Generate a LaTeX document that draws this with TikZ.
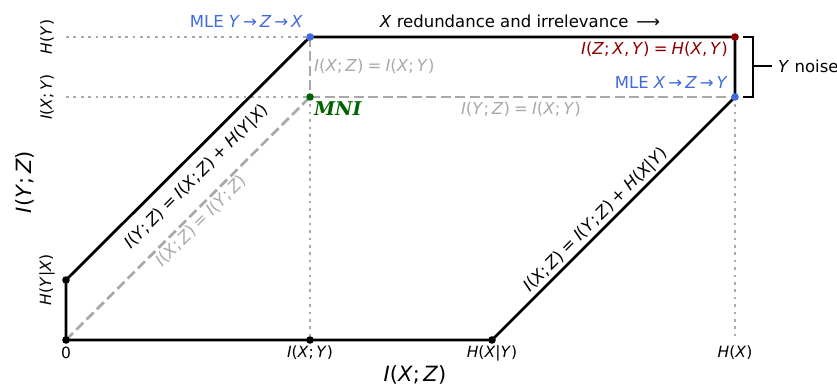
\documentclass[tikz,border=0pt]{standalone}
\usepackage{fontspec}
\setmainfont{DejaVu Sans}
\newfontfamily\mnifont{DejaVu Serif}
\definecolor{mleblue}{HTML}{4169E1}
\definecolor{redd}{HTML}{8B0000}
\definecolor{mnigreen}{HTML}{006400}
\definecolor{gr}{HTML}{A9A9A9}
\newcommand{\V}[1]{\textit{#1}}
\newcommand{\eq}{\hspace{0.25em}=\hspace{0.25em}}
\newcommand{\pl}{\hspace{0.25em}+\hspace{0.25em}}
\newcommand{\sm}{;\hspace{0.17em}}
\newcommand{\cm}{,\hspace{0.17em}}
\newcommand{\ar}{\hspace{0.18em}\textrightarrow\hspace{0.18em}}
\tikzset{
  txt/.style={inner sep=0pt, font=\fontsize{16.5pt}{19pt}\selectfont},
  tick/.style={inner sep=0pt, font=\fontsize{15.5pt}{18pt}\selectfont},
  axl/.style={inner sep=0pt, font=\fontsize{21pt}{24pt}\selectfont},
  frame/.style={line width=2.8pt, line join=miter},
  gdash/.style={gr, line width=2.7pt, dash pattern=on 10pt off 4.5pt},
  gdot/.style={gr, line width=2.7pt, dash pattern=on 2.7pt off 4.7pt},
  pt/.style={circle, inner sep=0pt, minimum size=7.6pt, fill=#1},
}
\begin{document}
\begin{tikzpicture}[x=1pt,y=1pt]
\useasboundingbox (0,0) rectangle (837,387);
% key coordinates
\coordinate (O) at (66,47);
\coordinate (A) at (66,107);
\coordinate (B) at (310,350);
\coordinate (C) at (735,350);
\coordinate (D) at (735,290);
\coordinate (E) at (492,47);
\coordinate (M) at (310,290);
\coordinate (F) at (310,47);
\coordinate (G) at (735,47);
\coordinate (LH) at (66,350);
\coordinate (LI) at (66,290);
% dotted guides
\draw[gdot] (LH) -- (B);
\draw[gdot] (LI) -- (M);
\draw[gdot] (M) -- (F);
\draw[gdot] (D) -- (G);
% dashed
\draw[gdash] (O) -- (M);
\draw[gdash] (M) -- (D);
\draw[gdash] (B) -- (M);
% frame
\draw[frame] (O) -- (A) -- (B) -- (C) -- (D) -- (E) -- cycle;
% bracket
\coordinate (br1) at (743,350);
\coordinate (br2) at (753,350);
\coordinate (br3) at (753,290);
\coordinate (br4) at (743,290);
\coordinate (brm) at (753,321);
\coordinate (brt) at (772,321);
\draw[line width=1.8pt] (br1) -- (br2) -- (br3) -- (br4);
\draw[line width=1.8pt] (brm) -- (brt);
% points
\node[pt=black] (pO) at (O) {};
\node[pt=black] (pA) at (A) {};
\node[pt=black] (pF) at (F) {};
\node[pt=black] (pE) at (E) {};
\node[pt=mleblue] (pB) at (B) {};
\node[pt=mleblue] (pD) at (D) {};
\node[pt=redd] (pC) at (C) {};
\node[pt=mnigreen] (pM) at (M) {};
% top labels
\node[txt, mleblue, anchor=east] (mle1) at (303,366) {MLE \V{Y}\ar\V{Z}\ar\V{X}};
\node[txt] (red) at (520,366) {\V{X} redundance and irrelevance \,⟶};
\node[txt, redd, anchor=east] (ixy) at (728,338) {\V{I}(\V{Z}\sm\V{X}\cm\V{Y})\eq\V{H}(\V{X}\cm\V{Y})};
\node[txt, mleblue, anchor=east] (mle2) at (728,305) {MLE \V{X}\ar\V{Z}\ar\V{Y}};
\node[txt, anchor=west] (noise) at (778,321) {\V{Y} noise};
\node[txt, gr, anchor=west] (g1) at (314,321) {\V{I}(\V{X}\sm\V{Z})\eq\V{I}(\V{X}\sm\V{Y})};
\node[inner sep=0pt, mnigreen, anchor=west, font=\fontsize{19pt}{21pt}\selectfont] (mni) at (314,278) {\mnifont\bfseries\itshape MNI};
\node[txt, gr] (g2) at (521,278) {\V{I}(\V{Y}\sm\V{Z})\eq\V{I}(\V{X}\sm\V{Y})};
% diagonal labels
\node[txt, rotate=45] (d1) at (197,210) {\V{I}(\V{Y}\sm\V{Z})\eq\V{I}(\V{X}\sm\V{Z})\pl\V{H}(\V{Y}|\V{X})};
\node[txt, gr, rotate=45] (d2) at (201,166) {\V{I}(\V{X}\sm\V{Z})\eq\V{I}(\V{Y}\sm\V{Z})};
\node[txt, rotate=45] (d3) at (596,167) {\V{I}(\V{X}\sm\V{Z})\eq\V{I}(\V{Y}\sm\V{Z})\pl\V{H}(\V{X}|\V{Y})};
% ticks
\node[tick] (t0) at (66,34) {0};
\node[tick] (t1) at (310,34) {\V{I}(\V{X}\sm\V{Y})};
\node[tick] (t2) at (492,34) {\V{H}(\V{X}|\V{Y})};
\node[tick] (t3) at (735,34) {\V{H}(\V{X})};
\node[tick, rotate=90] (y1) at (47,350) {\V{H}(\V{Y})};
\node[tick, rotate=90] (y2) at (47,290) {\V{I}(\V{X}\sm\V{Y})};
\node[tick, rotate=90] (y3) at (47,107) {\V{H}(\V{Y}|\V{X})};
% axis labels
\node[axl] (xl) at (415,12) {\V{I}(\V{X}\sm\V{Z})};
\node[axl, rotate=90] (yl) at (25,205) {\V{I}(\V{Y}\sm\V{Z})};
\end{tikzpicture}
\end{document}
